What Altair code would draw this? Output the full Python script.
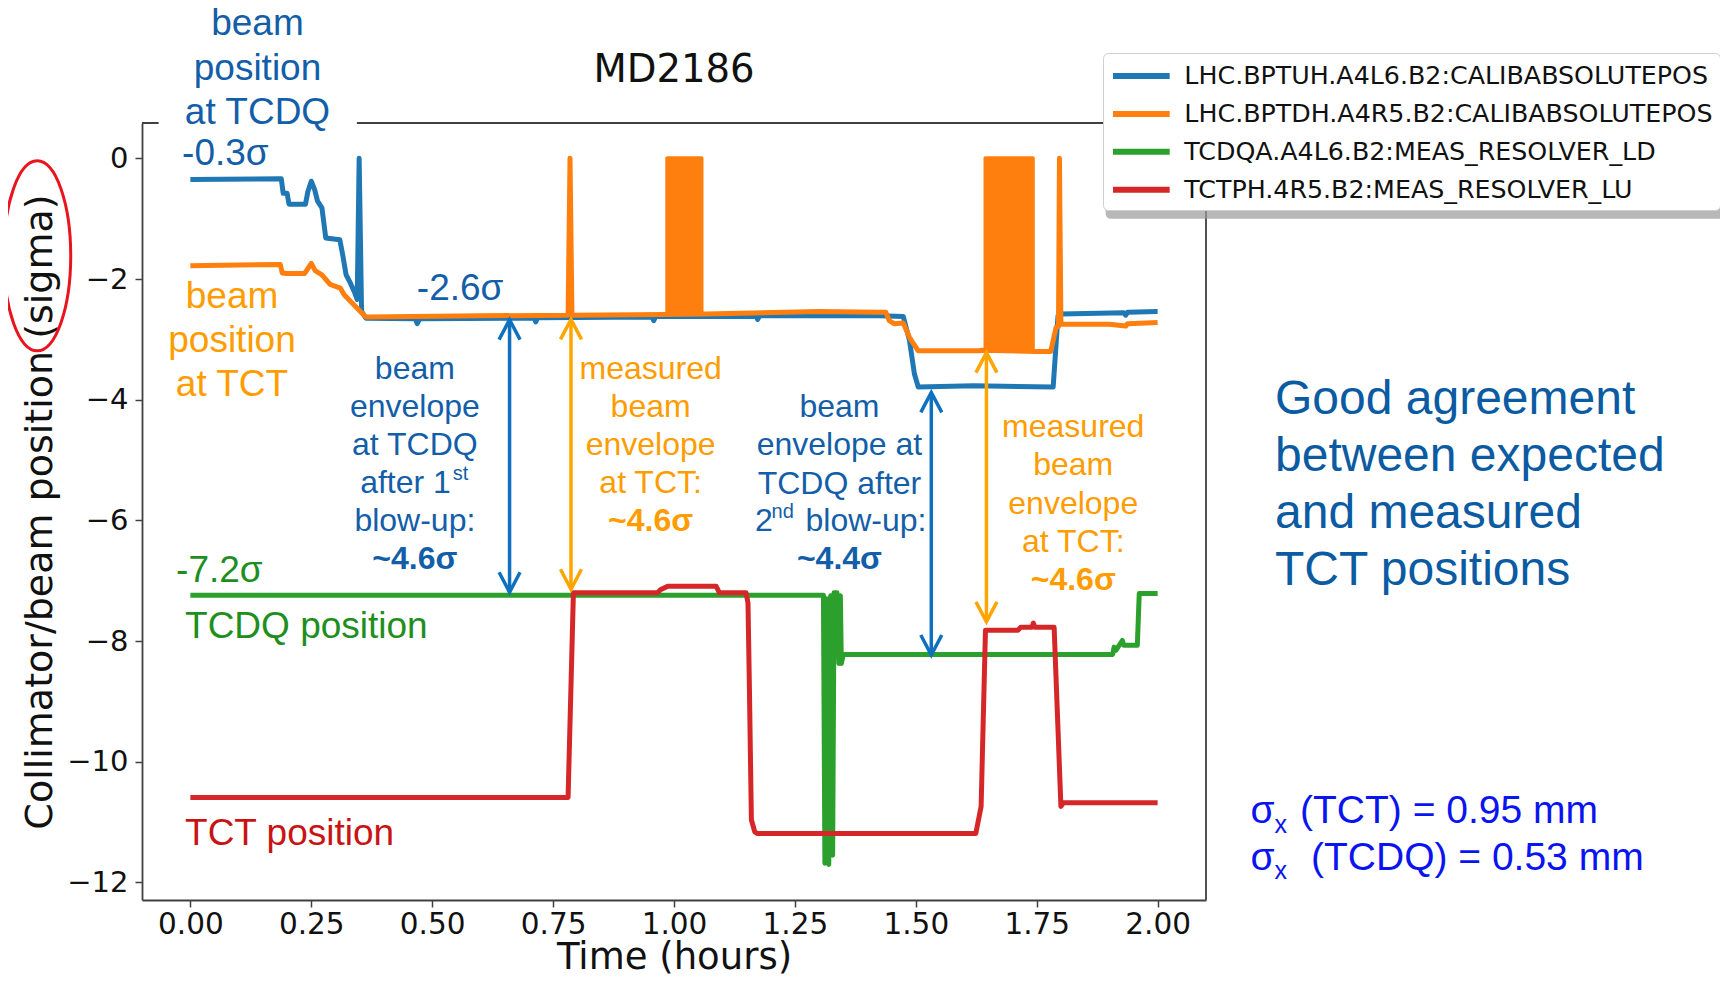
import altair as alt
import pandas as pd

# ---------------- data ----------------
series_names = [
    "LHC.BPTUH.A4L6.B2:CALIBABSOLUTEPOS",
    "LHC.BPTDH.A4R5.B2:CALIBABSOLUTEPOS",
    "TCDQA.A4L6.B2:MEAS_RESOLVER_LD",
    "TCTPH.4R5.B2:MEAS_RESOLVER_LU",
]
series_colors = ["#1f77b4", "#ff7f0e", "#2ca02c", "#d62728"]

blue_t = [0.0, 0.188, 0.192, 0.200, 0.204, 0.238, 0.243, 0.250, 0.257, 0.263, 0.272, 0.280,
          0.309, 0.315, 0.322, 0.331, 0.340, 0.345, 0.349, 0.354, 0.363, 0.465, 0.469, 0.474,
          0.711, 0.714, 0.718, 0.955, 0.958, 0.962, 1.170, 1.173, 1.177, 1.424, 1.474, 1.487,
          1.497, 1.505, 1.620, 1.784, 1.794, 1.800, 1.930, 1.934, 1.938, 2.0]
blue_v = [-0.35, -0.34, -0.58, -0.58, -0.76, -0.76, -0.55, -0.38, -0.52, -0.71, -0.82, -1.32,
          -1.35, -1.60, -1.93, -2.07, -2.23, -2.34, 0.0, -2.54, -2.65, -2.66, -2.74, -2.66,
          -2.65, -2.71, -2.64, -2.63, -2.69, -2.62, -2.62, -2.67, -2.61, -2.61, -2.62, -3.02,
          -3.57, -3.79, -3.77, -3.79, -2.61, -2.58, -2.56, -2.60, -2.55, -2.54]

orange_t = [0.0, 0.186, 0.190, 0.199, 0.236, 0.250, 0.258, 0.272, 0.289, 0.310, 0.318, 0.335,
            0.354, 0.363, 0.600, 0.781, 0.785, 0.789, 0.980, 1.065, 1.300, 1.424, 1.438, 1.445,
            1.455, 1.474, 1.487, 1.505, 1.631, 1.638, 1.748, 1.779, 1.790, 1.795, 1.797, 1.800,
            1.900, 1.934, 1.938, 2.0]
orange_v = [-1.78, -1.76, -1.90, -1.91, -1.91, -1.74, -1.86, -1.93, -2.09, -2.15, -2.26, -2.40,
            -2.56, -2.63, -2.61, -2.60, 0.0, -2.60, -2.59, -2.58, -2.54, -2.55, -2.55, -2.69,
            -2.74, -2.73, -2.97, -3.19, -3.19, -3.18, -3.20, -3.20, -2.80, -2.79, 0.0, -2.75,
            -2.75, -2.78, -2.74, -2.72]
# dense oscillation bursts of the orange signal (drawn as solid blocks)
burst_t0 = [0.982, 1.640]
burst_t1 = [1.061, 1.746]
burst_lo = [-2.60, -3.19]
burst_hi = [0.035, 0.035]

green_t = [0.0, 1.309, 1.312, 1.316, 1.320, 1.324, 1.328, 1.331, 1.337, 1.341, 1.344, 1.346,
           1.350, 1.907, 1.910, 1.914, 1.927, 1.930, 1.933, 1.958, 1.962, 2.0]
green_v = [-7.24, -7.24, -11.68, -7.30, -11.70, -7.25, -11.55, -7.20, -7.20, -8.37, -7.25, -8.37,
           -8.22, -8.22, -8.10, -8.15, -7.99, -8.07, -8.07, -8.07, -7.21, -7.21]

red_t = [0.0, 0.781, 0.792, 0.966, 0.972, 0.987, 1.087, 1.094, 1.149, 1.153, 1.156, 1.160,
         1.167, 1.173, 1.624, 1.635, 1.644, 1.711, 1.717, 1.740, 1.743, 1.746, 1.786, 1.800,
         1.805, 2.0]
red_v = [-10.59, -10.59, -7.20, -7.20, -7.15, -7.09, -7.09, -7.20, -7.20, -7.37, -8.81, -10.96,
         -11.16, -11.19, -11.19, -10.74, -7.82, -7.82, -7.77, -7.77, -7.70, -7.77, -7.77, -10.74,
         -10.68, -10.68]

x_ticks = [0.0, 0.25, 0.5, 0.75, 1.0, 1.25, 1.5, 1.75, 2.0]
y_ticks = [0, -2, -4, -6, -8, -10, -12]
x_domain = [-0.1, 2.1]
y_domain = [-12.29, 0.585]

# ---------------- tables ----------------
def series_df(name, ts, vs):
    return pd.DataFrame({"t": ts, "v": vs, "series": name, "i": list(range(len(ts)))})

all_series = [
    series_df(series_names[0], blue_t, blue_v),
    series_df(series_names[1], orange_t, orange_v),
    series_df(series_names[2], green_t, green_v),
    series_df(series_names[3], red_t, red_v),
]
burst_df = pd.DataFrame({"t0": burst_t0, "t1": burst_t1, "lo": burst_lo, "hi": burst_hi})

# ---------------- styling ----------------
FONT_A = "Liberation Sans, Arial, sans-serif"
FONT_D = "DejaVu Sans, sans-serif"
AX = "#404040"
TXT_BLUE = "#135ea8"
TXT_ORANGE = "#ff9c00"
TXT_GREEN = "#1e8f1e"
TXT_RED = "#c81414"
ARR_BLUE = "#1070c0"
ARR_ORANGE = "#ffa500"
SIG_BLUE = "#0a14f0"

xscale = alt.Scale(domain=x_domain, nice=False, zero=False)
yscale = alt.Scale(domain=y_domain, nice=False, zero=False)
color_scale = alt.Scale(domain=series_names, range=series_colors)

xaxis = alt.Axis(values=x_ticks, format=".2f", title="Time (hours)", grid=False,
                 labelFontSize=29.5, labelFont=FONT_D, labelColor="#111111", labelPadding=3,
                 labelFlush=False, labelOverlap=False,
                 tickSize=7, tickWidth=1.5, tickColor=AX, domainColor=AX, domainWidth=1.8,
                 titleFont=FONT_D, titleFontSize=37, titleFontWeight="normal", titleColor="#111111",
                 titleBaseline="alphabetic", titleY=68)
yaxis = alt.Axis(values=y_ticks, format="d", title="Collimator/beam position (sigma)", grid=False,
                 labelFontSize=29, labelFont=FONT_D, labelColor="#111111", labelPadding=7,
                 labelFlush=False, labelOverlap=False,
                 tickSize=7, tickWidth=1.5, tickColor=AX, domainColor=AX, domainWidth=1.8,
                 titleFont=FONT_D, titleFontSize=38, titleFontWeight="normal", titleColor="#111111",
                 titleBaseline="alphabetic", titleAngle=270, titleX=-91, titleY=388.5,
                 titleAlign="center")
legend = alt.Legend(orient="none", legendX=961, legendY=-70, title=None,
                    symbolType="M-2.18,0L2.18,0", symbolStrokeWidth=6, symbolSize=676,
                    symbolOffset=15.35,
                    labelFont=FONT_D, labelFontSize=25.3, labelColor="#111111", labelLimit=1000,
                    labelOffset=27, fillColor="white", strokeColor="#cfcfcf", cornerRadius=5,
                    padding=7, rowPadding=7.9)

ONE = alt.Data(values=[{}])


def text(t, v, s, color, size, align="center", weight="normal", lh=None, font=FONT_A):
    kw = dict(align=align, baseline="alphabetic", font=font, fontSize=size,
              fontWeight=weight, color=color)
    if lh:
        kw["lineHeight"] = lh
    return alt.Chart(ONE).mark_text(**kw).encode(
        x=alt.datum(t), y=alt.datum(v), text=alt.value(s))


def arrow(t, v_top, v_bot, color):
    shaft = alt.Chart(ONE).mark_rule(color=color, strokeWidth=3.5).encode(
        x=alt.datum(t), y=alt.datum(v_top), y2=alt.datum(v_bot))
    head_up = alt.Chart(ONE).mark_point(shape="M-1,1.9L0,0L1,1.9", size=441, filled=False,
                                        color=color, strokeWidth=3.5, opacity=1).encode(
        x=alt.datum(t), y=alt.datum(v_top))
    head_dn = alt.Chart(ONE).mark_point(shape="M-1,-1.9L0,0L1,-1.9", size=441, filled=False,
                                        color=color, strokeWidth=3.5, opacity=1).encode(
        x=alt.datum(t), y=alt.datum(v_bot))
    return [shaft, head_up, head_dn]


layers = []

# frame (top and right spines)
layers.append(alt.Chart(ONE).mark_rule(color=AX, strokeWidth=1.8).encode(
    x=alt.datum(x_domain[0]), x2=alt.datum(x_domain[1]), y=alt.datum(y_domain[1])))
layers.append(alt.Chart(ONE).mark_rule(color=AX, strokeWidth=1.8).encode(
    x=alt.datum(x_domain[1]), y=alt.datum(y_domain[0]), y2=alt.datum(y_domain[1])))
# white text box behind "beam position at TCDQ" (hides part of the top spine)
layers.append(alt.Chart(ONE).mark_rect(color="white").encode(
    x=alt.datum(-0.0657), x2=alt.datum(0.3443), y=alt.datum(2.6), y2=alt.datum(0.48)))
# soft shadow under the legend box
layers.append(alt.Chart(ONE).mark_rect(color="#9a9a9a", opacity=0.7, cornerRadius=5).encode(
    x=alt.datum(1.8925), x2=alt.datum(3.2), y=alt.datum(1.62), y2=alt.datum(-1.0)))

# data series
for k, d in enumerate(all_series):
    layers.append(alt.Chart(d).mark_line(strokeWidth=5, strokeJoin="round", strokeCap="butt").encode(
        x=alt.X("t:Q", scale=xscale, axis=xaxis),
        y=alt.Y("v:Q", scale=yscale, axis=yaxis),
        color=alt.Color("series:N", scale=color_scale, legend=legend),
        order=alt.Order("i:Q")))
    if k == 1:
        layers.append(alt.Chart(burst_df).mark_rect(color=series_colors[1], cornerRadius=2).encode(
            x=alt.X("t0:Q", scale=xscale), x2="t1:Q",
            y=alt.Y("lo:Q", scale=yscale), y2="hi:Q"))

# title
layers.append(text(1.0, 1.27, "MD2186", "#111111", 38.6, font=FONT_D))

# left annotations
layers.append(text(0.1388, 2.04, ["beam", "position", "at TCDQ"], TXT_BLUE, 37, lh=44.5))
layers.append(text(-0.0171, -0.108, "-0.3σ", TXT_BLUE, 37, align="left"))
layers.append(text(0.0861, -2.474, ["beam", "position", "at TCT"], TXT_ORANGE, 37, lh=44.4))
layers.append(text(0.4683, -2.344, "-2.6σ", TXT_BLUE, 37, align="left"))
layers.append(text(-0.0295, -7.028, "-7.2σ", TXT_GREEN, 37, align="left"))
layers.append(text(-0.011, -7.954, "TCDQ position", TXT_GREEN, 37, align="left"))
layers.append(text(-0.011, -11.384, "TCT position", TXT_RED, 37, align="left"))

# envelope 1 (blue)
layers.append(text(0.4642, -3.65, ["beam", "envelope", "at TCDQ"], TXT_BLUE, 32, lh=38.3))
layers.append(text(0.5386, -5.545, "after 1", TXT_BLUE, 32, align="right"))
layers.append(text(0.5427, -5.33, "st", TXT_BLUE, 20, align="left"))
layers.append(text(0.4642, -6.174, "blow-up:", TXT_BLUE, 32))
layers.append(text(0.4642, -6.811, "~4.6σ", TXT_BLUE, 32, weight="bold"))
# envelope 1 (orange)
layers.append(text(0.9517, -3.65, ["measured", "beam", "envelope", "at TCT:"], TXT_ORANGE, 32, lh=38.3))
layers.append(text(0.9517, -6.174, "~4.6σ", TXT_ORANGE, 32, weight="bold"))
# envelope 2 (blue)
layers.append(text(1.3421, -4.288, ["beam", "envelope at", "TCDQ after"], TXT_BLUE, 32, lh=38.3))
layers.append(text(1.1673, -6.174, "2", TXT_BLUE, 32, align="left"))
layers.append(text(1.2017, -5.959, "nd", TXT_BLUE, 20, align="left"))
layers.append(text(1.2719, -6.174, "blow-up:", TXT_BLUE, 32, align="left"))
layers.append(text(1.3421, -6.811, "~4.4σ", TXT_BLUE, 32, weight="bold"))
# envelope 2 (orange)
layers.append(text(1.8255, -4.611, ["measured", "beam", "envelope", "at TCT:"], TXT_ORANGE, 32, lh=38.6))
layers.append(text(1.8255, -7.146, "~4.6σ", TXT_ORANGE, 32, weight="bold"))

# arrows
layers += arrow(0.660, -2.675, -7.19, ARR_BLUE)
layers += arrow(0.787, -2.67, -7.14, ARR_ORANGE)
layers += arrow(1.532, -3.88, -8.23, ARR_BLUE)
layers += arrow(1.646, -3.22, -7.68, ARR_ORANGE)

# right-hand notes
layers.append(text(2.2427, -4.23, ["Good agreement", "between expected", "and measured", "TCT positions"],
                   "#0b5ba3", 48, align="left", lh=57))
layers.append(text(2.1921, -11.017, "σ", SIG_BLUE, 39, align="left"))
layers.append(text(2.2417, -11.178, "x", SIG_BLUE, 25, align="left"))
layers.append(text(2.2944, -11.017, "(TCT) = 0.95 mm", SIG_BLUE, 39, align="left"))
layers.append(text(2.1921, -11.789, "σ", SIG_BLUE, 39, align="left"))
layers.append(text(2.2417, -11.95, "x", SIG_BLUE, 25, align="left"))
layers.append(text(2.3171, -11.789, "(TCDQ) = 0.53 mm", SIG_BLUE, 39, align="left"))

# red ellipse around "(sigma)"
layers.append(alt.Chart(ONE).mark_point(
    shape="M-0.353,0A0.353,1 0 1,1 0.353,0A0.353,1 0 1,1 -0.353,0Z",
    size=190 * 190, filled=False, color="#e8141e", strokeWidth=3, opacity=1).encode(
    x=alt.datum(-0.3167), y=alt.datum(-1.616)))

chart = alt.layer(*layers).properties(
    width=1064, height=777,
    padding={"left": 134, "top": 115, "right": 514, "bottom": 76},
    autosize=alt.AutoSizeParams(type="none"),
    background="white",
).configure_view(stroke=None)

chart.save("out.html", embed_options={"renderer": "svg", "actions": False})
